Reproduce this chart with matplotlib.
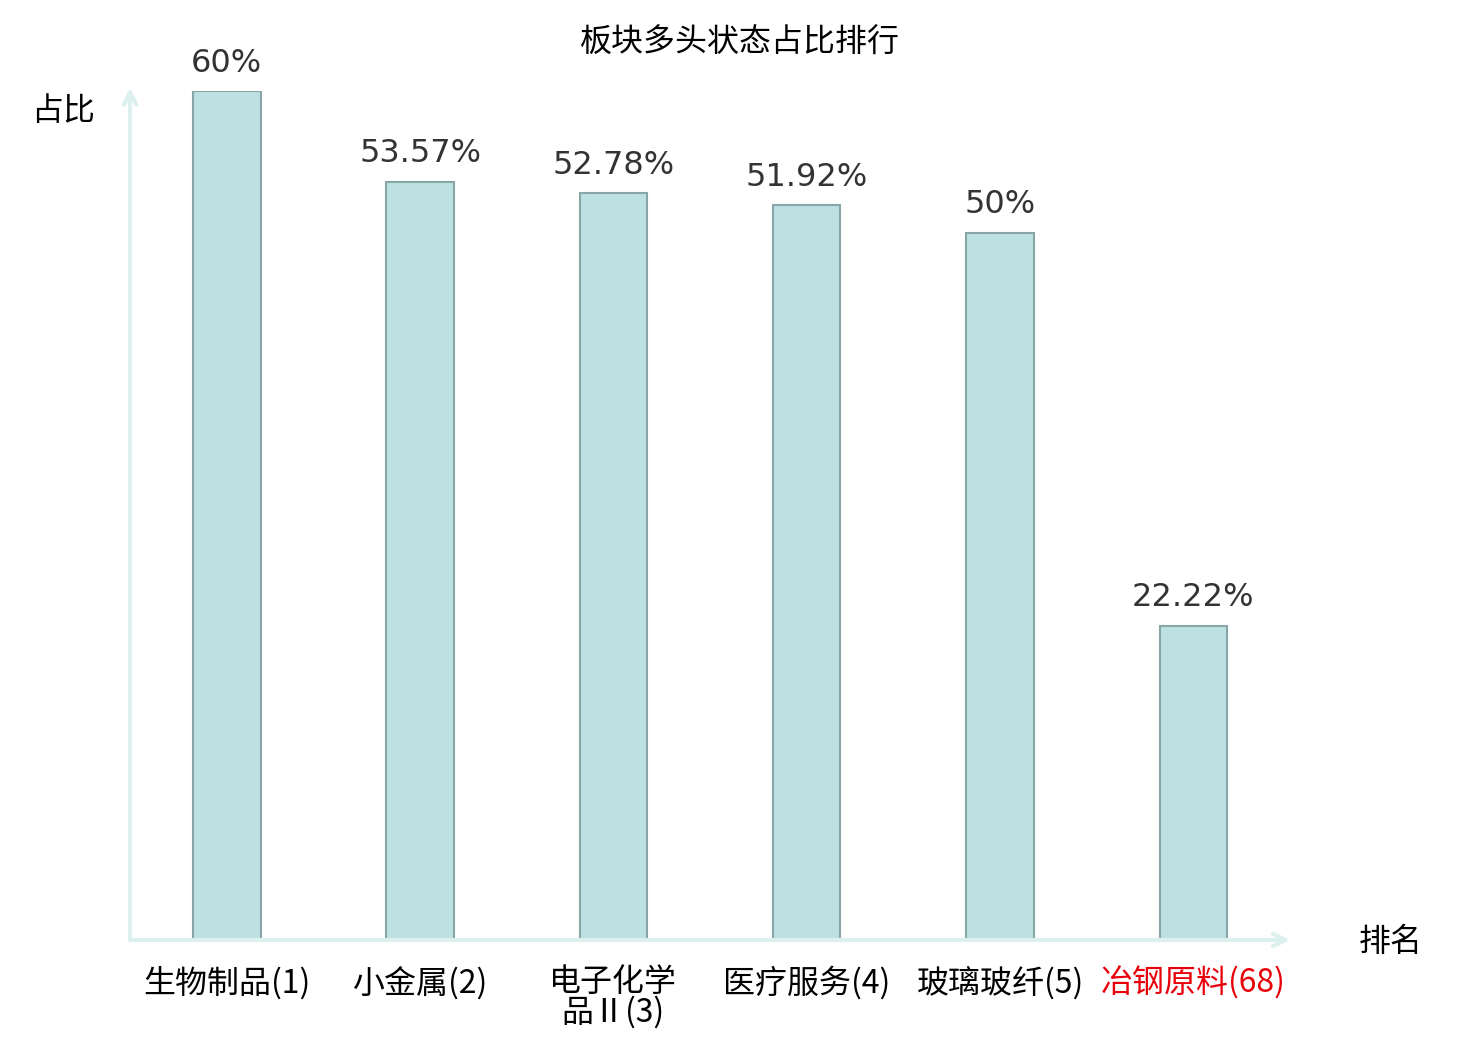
import matplotlib
matplotlib.use("Agg")
import matplotlib.pyplot as plt

plt.rcParams["font.family"] = ["Noto Sans CJK SC", "DejaVu Sans"]

# data
sectors = ["生物制品(1)", "小金属(2)", "电子化学\n品Ⅱ(3)", "医疗服务(4)", "玻璃玻纤(5)", "冶钢原料(68)"]
ratios = [60, 53.57, 52.78, 51.92, 50, 22.22]
ratio_labels = ["60%", "53.57%", "52.78%", "51.92%", "50%", "22.22%"]
highlight = [False, False, False, False, False, True]

axis_color = "#dcf0ee"

fig = plt.figure(figsize=(14.8, 10.4), dpi=100)
ax = fig.add_axes([130 / 1480, 100 / 1040, 1160 / 1480, 849 / 1040])

x = list(range(len(sectors)))
ax.bar(x, ratios, width=0.35, color="#bde0e3", edgecolor="#88a6a8", linewidth=1.5, zorder=2)

# value labels above each bar
for xi, v, lab in zip(x, ratios, ratio_labels):
    ax.annotate(lab, (xi, v), xytext=(0, 9), textcoords="offset points",
                ha="center", va="bottom", fontsize=23, color="#333333",
                family="DejaVu Sans")

ax.set_xlim(-0.5, len(sectors) - 0.5)
ax.set_ylim(0, 60)
for s in ax.spines.values():
    s.set_visible(False)
ax.set_yticks([])
ax.set_xticks(x)
ax.set_xticklabels(sectors, fontsize=23, linespacing=0.92)
ax.tick_params(axis="x", length=0, pad=19)
for lbl, hl in zip(ax.get_xticklabels(), highlight):
    lbl.set_color("#e8000b" if hl else "black")

# axis arrows
ax.annotate("", xy=(1, 0), xytext=(0, 0), xycoords="axes fraction",
            arrowprops=dict(arrowstyle="->,head_length=0.9,head_width=0.45",
                            color=axis_color, lw=3, shrinkA=0, shrinkB=0),
            annotation_clip=False)
ax.annotate("", xy=(0, 1.004), xytext=(0, 0), xycoords="axes fraction",
            arrowprops=dict(arrowstyle="->,head_length=0.9,head_width=0.45",
                            color=axis_color, lw=3, shrinkA=0, shrinkB=0),
            annotation_clip=False)

fig.text(740 / 1480, 1 - 43 / 1040, "板块多头状态占比排行", ha="center", va="center", fontsize=23)
fig.text(63 / 1480, 1 - 111 / 1040, "占比", ha="center", va="center", fontsize=23)
fig.text(1391 / 1480, 1 - 942 / 1040, "排名", ha="center", va="center", fontsize=23)

fig.savefig("out.png", dpi=100)
